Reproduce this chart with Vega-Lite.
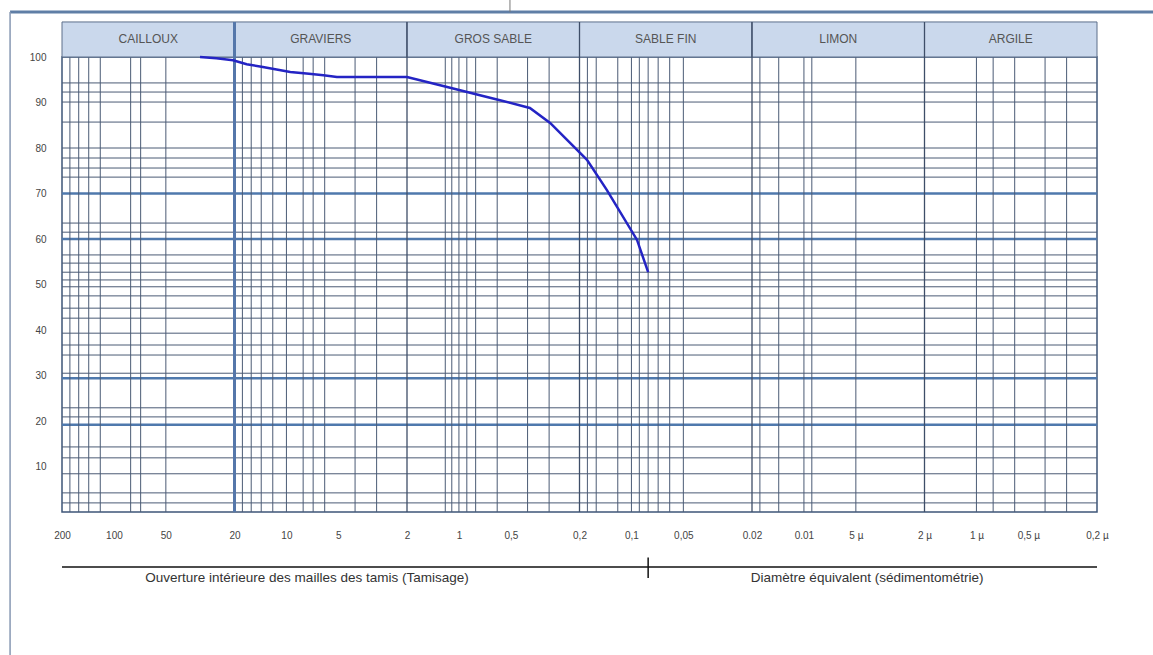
{
  "$schema": "https://vega.github.io/schema/vega-lite/v6.json",
  "width": 1035,
  "height": 455,
  "autosize": {"type": "none"},
  "padding": {"left": 62, "top": 57, "right": 56, "bottom": 143},
  "background": "white",
  "config": {
    "font": "Liberation Sans",
    "view": {"stroke": "#3e5678", "strokeWidth": 1.5},
    "axisX": {"grid": false, "ticks": false, "domain": false, "labelPadding": 18, "labelFontSize": 10, "labelColor": "#444", "labelFlush": false, "labelOverlap": false, "title": null},
    "axisY": {"grid": false, "ticks": false, "domain": false, "labelPadding": 16, "labelFontSize": 10, "labelColor": "#444", "title": null}
  },
  "datasets": {
    "courbe": [
      {"d": 31.7, "passant": 100},
      {"d": 25.5, "passant": 99.7},
      {"d": 20.4, "passant": 99.3},
      {"d": 17.0, "passant": 98.4},
      {"d": 13.7, "passant": 97.8},
      {"d": 9.5, "passant": 96.7},
      {"d": 7.4, "passant": 96.3},
      {"d": 6.1, "passant": 96.0},
      {"d": 5.1, "passant": 95.6},
      {"d": 2.0, "passant": 95.6},
      {"d": 1.17, "passant": 93.4},
      {"d": 0.755, "passant": 91.6},
      {"d": 0.578, "passant": 90.5},
      {"d": 0.388, "passant": 88.8},
      {"d": 0.296, "passant": 85.5},
      {"d": 0.181, "passant": 77.4},
      {"d": 0.139, "passant": 70.8},
      {"d": 0.0928, "passant": 59.8},
      {"d": 0.08, "passant": 52.7}
    ],
    "classes": [
      {"classe": "CAILLOUX", "dmax": 200, "dmin": 20},
      {"classe": "GRAVIERS", "dmax": 20, "dmin": 2},
      {"classe": "GROS SABLE", "dmax": 2, "dmin": 0.2},
      {"classe": "SABLE FIN", "dmax": 0.2, "dmin": 0.02},
      {"classe": "LIMON", "dmax": 0.02, "dmin": 0.002},
      {"classe": "ARGILE", "dmax": 0.002, "dmin": 0.0002}
    ],
    "tamis": [
      {"d": 180}, {"d": 160}, {"d": 140}, {"d": 120}, {"d": 80}, {"d": 70}, {"d": 50},
      {"d": 18}, {"d": 16}, {"d": 14}, {"d": 12}, {"d": 10}, {"d": 8}, {"d": 7}, {"d": 6}, {"d": 4}, {"d": 3},
      {"d": 1.2}, {"d": 1.1}, {"d": 1.0}, {"d": 0.9}, {"d": 0.8}, {"d": 0.6}, {"d": 0.4}, {"d": 0.3},
      {"d": 0.18}, {"d": 0.16}, {"d": 0.12}, {"d": 0.1}, {"d": 0.09}, {"d": 0.08}, {"d": 0.07}, {"d": 0.06}, {"d": 0.05},
      {"d": 0.018}, {"d": 0.014}, {"d": 0.01}, {"d": 0.009}, {"d": 0.005},
      {"d": 0.001}, {"d": 0.0008}, {"d": 0.0006}, {"d": 0.0004}, {"d": 0.0003}
    ],
    "niveaux": [
      {"p": 94.3}, {"p": 92.3}, {"p": 90.1}, {"p": 85.7}, {"p": 80}, {"p": 77.8}, {"p": 75.6}, {"p": 73.6},
      {"p": 63.5}, {"p": 61.5}, {"p": 56.5}, {"p": 54.7}, {"p": 52.7}, {"p": 51}, {"p": 49.5}, {"p": 47.5},
      {"p": 44.8}, {"p": 42.6}, {"p": 39.3}, {"p": 36.7}, {"p": 34.5}, {"p": 30.5}, {"p": 22.9}, {"p": 20.9},
      {"p": 14.3}, {"p": 11.9}, {"p": 8.4}, {"p": 4.2}, {"p": 2}
    ],
    "niveauxMajeurs": [{"p": 70}, {"p": 60}, {"p": 29.4}, {"p": 19.2}]
  },
  "layer": [
    {
      "data": {"name": "courbe"},
      "mark": {"type": "line", "stroke": "#2424c4", "strokeWidth": 2.5, "opacity": 0},
      "encoding": {
        "x": {"field": "d", "type": "quantitative", "title": null,
          "scale": {"type": "log", "domain": [0.0002, 200], "reverse": true},
          "axis": {"values": [200, 100, 50, 20, 10, 5, 2, 1, 0.5, 0.2, 0.1, 0.05, 0.02, 0.01, 0.005, 0.002, 0.001, 0.0005, 0.0002],
            "labelExpr": "datum.value < 0.009 ? replace(toString(round(datum.value * 10000) / 10), '.', ',') + ' µ' : (datum.value < 0.03 ? toString(datum.value) : replace(toString(datum.value), '.', ','))"}},
        "y": {"field": "passant", "type": "quantitative", "title": null, "scale": {"domain": [0, 100]},
          "axis": {"values": [10, 20, 30, 40, 50, 60, 70, 80, 90, 100]}}
      }
    },
    {
      "data": {"name": "niveaux"},
      "mark": {"type": "rule", "stroke": "#4b5b75", "strokeWidth": 1},
      "encoding": {
        "y": {"field": "p", "type": "quantitative", "title": null, "scale": {"domain": [0, 100]}},
        "x": {"datum": 200, "type": "quantitative", "title": null, "scale": {"type": "log", "domain": [0.0002, 200], "reverse": true}},
        "x2": {"datum": 0.0002}
      }
    },
    {
      "data": {"name": "niveauxMajeurs"},
      "mark": {"type": "rule", "stroke": "#4f79ad", "strokeWidth": 2.5},
      "encoding": {
        "y": {"field": "p", "type": "quantitative", "title": null, "scale": {"domain": [0, 100]}},
        "x": {"datum": 200, "type": "quantitative", "title": null, "scale": {"type": "log", "domain": [0.0002, 200], "reverse": true}},
        "x2": {"datum": 0.0002}
      }
    },
    {
      "data": {"name": "tamis"},
      "mark": {"type": "rule", "stroke": "#4b5b75", "strokeWidth": 1},
      "encoding": {
        "x": {"field": "d", "type": "quantitative", "title": null, "scale": {"type": "log", "domain": [0.0002, 200], "reverse": true}},
        "y": {"datum": 0, "type": "quantitative", "title": null, "scale": {"domain": [0, 100]}},
        "y2": {"datum": 100}
      }
    },
    {
      "data": {"name": "classes"},
      "mark": {"type": "rect", "fill": "#cad8ec", "stroke": "#5d6f8a", "strokeWidth": 1},
      "encoding": {
        "x": {"field": "dmax", "type": "quantitative", "title": null, "scale": {"type": "log", "domain": [0.0002, 200], "reverse": true}},
        "x2": {"field": "dmin"},
        "y": {"datum": 100, "type": "quantitative", "title": null, "scale": {"domain": [0, 100]}},
        "y2": {"datum": 107.7}
      }
    },
    {
      "data": {"name": "classes"},
      "transform": [{"filter": "datum.dmin > 0.0003"}],
      "mark": {"type": "rule", "stroke": "#3e4e68", "strokeWidth": 1.3},
      "encoding": {
        "x": {"field": "dmin", "type": "quantitative", "title": null, "scale": {"type": "log", "domain": [0.0002, 200], "reverse": true}},
        "y": {"datum": 0, "type": "quantitative", "title": null, "scale": {"domain": [0, 100]}},
        "y2": {"datum": 107.7}
      }
    },
    {
      "data": {"name": "classes"},
      "transform": [{"filter": "datum.dmin == 20"}],
      "mark": {"type": "rule", "stroke": "#5577aa", "strokeWidth": 3},
      "encoding": {
        "x": {"field": "dmin", "type": "quantitative", "title": null, "scale": {"type": "log", "domain": [0.0002, 200], "reverse": true}},
        "y": {"datum": 0, "type": "quantitative", "title": null, "scale": {"domain": [0, 100]}},
        "y2": {"datum": 107.7}
      }
    },
    {
      "data": {"name": "classes"},
      "transform": [{"calculate": "sqrt(datum.dmax * datum.dmin)", "as": "centre"}],
      "mark": {"type": "text", "fontSize": 12, "fill": "#555", "align": "center", "baseline": "middle", "letterSpacing": 0.5},
      "encoding": {
        "x": {"field": "centre", "type": "quantitative", "title": null, "scale": {"type": "log", "domain": [0.0002, 200], "reverse": true}},
        "y": {"datum": 103.9, "type": "quantitative", "title": null, "scale": {"domain": [0, 100]}},
        "text": {"field": "classe"}
      }
    },
    {
      "data": {"name": "courbe"},
      "mark": {"type": "line", "stroke": "#2424c4", "strokeWidth": 2.5},
      "encoding": {
        "x": {"field": "d", "type": "quantitative", "title": null, "scale": {"type": "log", "domain": [0.0002, 200], "reverse": true}},
        "y": {"field": "passant", "type": "quantitative", "title": null, "scale": {"domain": [0, 100]}}
      }
    },
    {
      "data": {"values": [{}]},
      "mark": {"type": "rule", "stroke": "#111", "strokeWidth": 1.5},
      "encoding": {
        "x": {"datum": 200, "type": "quantitative", "title": null, "scale": {"type": "log", "domain": [0.0002, 200], "reverse": true}},
        "x2": {"datum": 0.0002},
        "y": {"datum": -12.1, "type": "quantitative", "title": null, "scale": {"domain": [0, 100]}}
      }
    },
    {
      "data": {"values": [{}]},
      "mark": {"type": "rule", "stroke": "#111", "strokeWidth": 1.5},
      "encoding": {
        "x": {"datum": 0.08, "type": "quantitative", "title": null, "scale": {"type": "log", "domain": [0.0002, 200], "reverse": true}},
        "y": {"datum": -10.0, "type": "quantitative", "title": null, "scale": {"domain": [0, 100]}},
        "y2": {"datum": -14.5}
      }
    },
    {
      "data": {"values": [{}]},
      "mark": {"type": "text", "fontSize": 13.5, "fill": "#333", "align": "center", "baseline": "middle", "letterSpacing": 1.5},
      "encoding": {
        "x": {"datum": 7.6, "type": "quantitative", "title": null, "scale": {"type": "log", "domain": [0.0002, 200], "reverse": true}},
        "y": {"datum": -14.6, "type": "quantitative", "title": null, "scale": {"domain": [0, 100]}},
        "text": {"value": "Ouverture intérieure des mailles des tamis (Tamisage)"}
      }
    },
    {
      "data": {"values": [{}]},
      "mark": {"type": "text", "fontSize": 13.5, "fill": "#333", "align": "center", "baseline": "middle", "letterSpacing": 1.8},
      "encoding": {
        "x": {"datum": 0.0043, "type": "quantitative", "title": null, "scale": {"type": "log", "domain": [0.0002, 200], "reverse": true}},
        "y": {"datum": -14.6, "type": "quantitative", "title": null, "scale": {"domain": [0, 100]}},
        "text": {"value": "Diamètre équivalent (sédimentométrie)"}
      }
    },
    {
      "data": {"values": [{}]},
      "mark": {"type": "rule", "stroke": "#5f7ea6", "strokeWidth": 3},
      "encoding": {
        "x": {"datum": 400, "type": "quantitative", "title": null, "scale": {"type": "log", "domain": [0.0002, 200], "reverse": true}},
        "x2": {"datum": 0.00009},
        "y": {"datum": 109.9, "type": "quantitative", "title": null, "scale": {"domain": [0, 100]}}
      }
    },
    {
      "data": {"values": [{}]},
      "mark": {"type": "rule", "stroke": "#8798b3", "strokeWidth": 1.5},
      "encoding": {
        "x": {"datum": 400, "type": "quantitative", "title": null, "scale": {"type": "log", "domain": [0.0002, 200], "reverse": true}},
        "y": {"datum": 109.9, "type": "quantitative", "title": null, "scale": {"domain": [0, 100]}},
        "y2": {"datum": -32}
      }
    },
    {
      "data": {"values": [{}]},
      "mark": {"type": "rule", "stroke": "#777", "strokeWidth": 1},
      "encoding": {
        "x": {"datum": 0.506, "type": "quantitative", "title": null, "scale": {"type": "log", "domain": [0.0002, 200], "reverse": true}},
        "y": {"datum": 113, "type": "quantitative", "title": null, "scale": {"domain": [0, 100]}},
        "y2": {"datum": 109.9}
      }
    }
  ]
}
